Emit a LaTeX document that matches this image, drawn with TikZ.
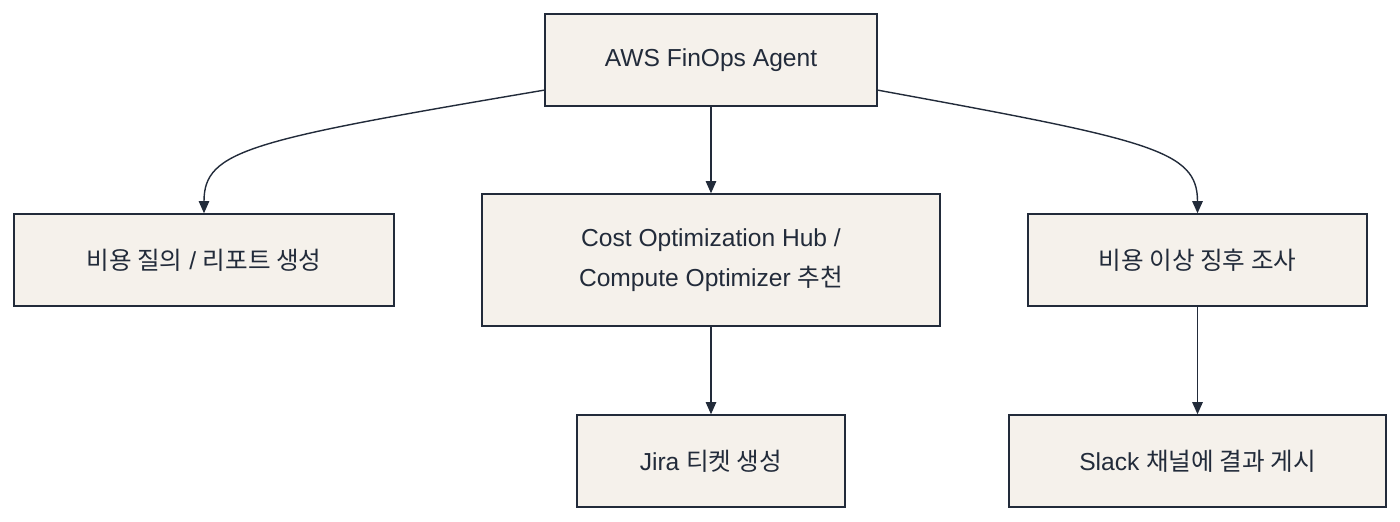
\documentclass[tikz,border=0pt]{standalone}
\usepackage{fontspec}
\setmainfont{Liberation Sans}
\newfontfamily\kr{Noto Sans CJK KR}
\usetikzlibrary{arrows.meta}

\definecolor{boxfill}{HTML}{F5F1EB}
\definecolor{boxline}{HTML}{222B3A}

\begin{document}
\begin{tikzpicture}[x=0.02cm,y=-0.02cm]
\useasboundingbox (0,0) rectangle (1400,521);

\tikzset{Box/.style={draw=boxline, fill=boxfill, thick, rectangle, align=center,
    font=\fontsize{14}{23}\selectfont, text=boxline, inner sep=0pt}}

% Boxes
\node (agent) at (711,60) [Box, minimum width=332*0.02cm, minimum height=92*0.02cm]
    {AWS FinOps Agent};
\node (query) at (204,260) [Box, minimum width=380*0.02cm, minimum height=92*0.02cm]
    {{\kr 비용 질의} / {\kr 리포트 생성}};
\node (hub) at (711,260) [Box, minimum width=458*0.02cm, minimum height=132*0.02cm]
    {Cost Optimization Hub /\\ Compute Optimizer {\kr 추천}};
\node (anomaly) at (1197.5,260) [Box, minimum width=339*0.02cm, minimum height=92*0.02cm]
    {{\kr 비용 이상 징후 조사}};
\node (jira) at (711,461) [Box, minimum width=268*0.02cm, minimum height=92*0.02cm]
    {Jira {\kr 티켓 생성}};
\node (slack) at (1197.5,461) [Box, minimum width=377*0.02cm, minimum height=92*0.02cm]
    {Slack {\kr 채널에 결과 게시}};

\coordinate (agentL) at (545,90);
\coordinate (agentR) at (877,90);

\begin{scope}[>={Triangle[width=6pt,length=7pt]}, every path/.style={draw=boxline, thick}]
    \draw [->] (agentL) .. controls (250,140) and (204,150) .. (query.north);
    \draw [->] (agentR) .. controls (1150,140) and (1197.5,150) .. (anomaly.north);
    \draw [->] (agent) -- (hub);
    \draw [->] (hub) -- (jira);
    \draw [->] (anomaly) -- (slack);
\end{scope}

\end{tikzpicture}
\end{document}
